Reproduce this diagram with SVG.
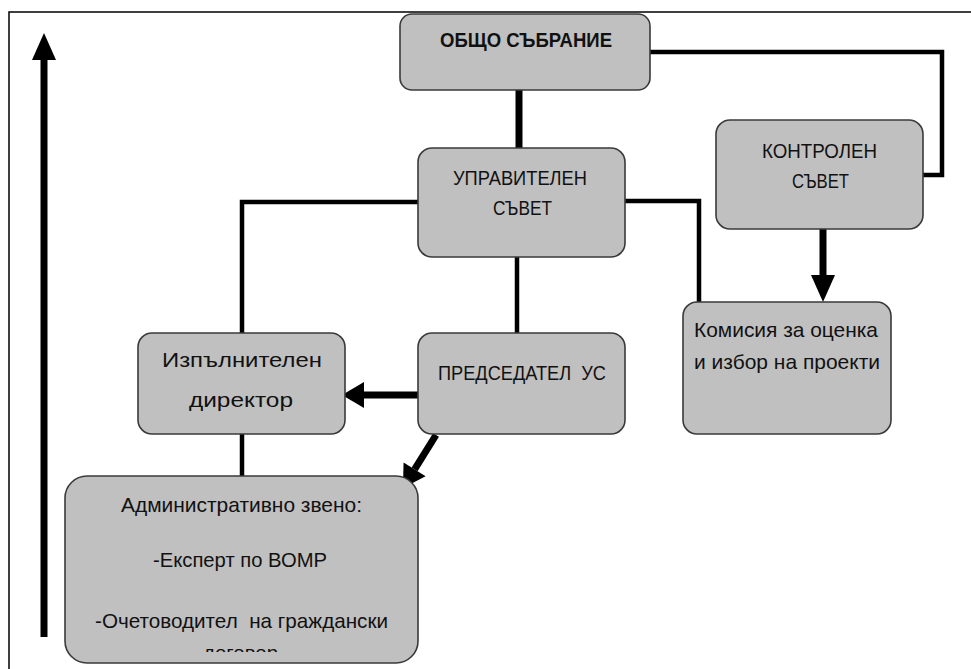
<svg xmlns="http://www.w3.org/2000/svg" width="971" height="669" viewBox="0 0 971 669">
<style>
.box{fill:#c0c0c0;stroke:#3a3a3a;stroke-width:1.6}
.t{font-family:"Liberation Sans",Arial,sans-serif;font-size:21px;fill:#111;white-space:pre}
.b{font-weight:bold}
.ln{fill:none;stroke:#000;stroke-width:4.5}
.th{fill:none;stroke:#000;stroke-width:7}
</style>
<defs>
<marker id="hl" markerUnits="userSpaceOnUse" markerWidth="30" markerHeight="26" refX="0" refY="12" orient="auto" overflow="visible">
<path d="M0,0 L27,12 L0,24 z" fill="#000"/>
</marker>
<marker id="hs" markerUnits="userSpaceOnUse" markerWidth="26" markerHeight="28" refX="0" refY="13" orient="auto" overflow="visible">
<path d="M0,0 L22,13 L0,26 z" fill="#000"/>
</marker>
<clipPath id="adminClip"><rect x="65" y="476" width="353" height="176"/></clipPath>
</defs>
<rect x="0" y="0" width="971" height="669" fill="#fff"/>
<path d="M9,680 V12 H985" fill="none" stroke="#000" stroke-width="1.5"/>
<g id="connectors">
<path class="th" d="M44,637 V60" marker-end="url(#hl)"/>
<path class="th" d="M519,90 V148"/>
<path class="ln" d="M650,52 H942 V175 H923"/>
<path class="ln" d="M418,202 H242 V333"/>
<path class="ln" d="M625,201 H699 V302"/>
<path class="ln" d="M517,257 V333"/>
<path class="ln" d="M242,434 V476"/>
<path class="th" d="M823,229 V275" marker-end="url(#hl)"/>
<path class="th" d="M418,395 H364" marker-end="url(#hs)"/>
<path class="th" d="M436,435 L414.6,469.3" marker-end="url(#hs)"/>
</g>
<g id="obshto">
<rect class="box" x="400" y="14" width="250" height="76" rx="12"/>
<text class="t b" x="440" y="47" textLength="172" lengthAdjust="spacingAndGlyphs">ОБЩО СЪБРАНИЕ</text>
</g>
<g id="upravitelen">
<rect class="box" x="418" y="148" width="207" height="109" rx="14"/>
<text class="t" x="453" y="185" textLength="134" lengthAdjust="spacingAndGlyphs">УПРАВИТЕЛЕН</text>
<text class="t" x="493" y="215" textLength="59" lengthAdjust="spacingAndGlyphs">СЪВЕТ</text>
</g>
<g id="kontrolen">
<rect class="box" x="716" y="120" width="207" height="109" rx="14"/>
<text class="t" x="762" y="158" textLength="115" lengthAdjust="spacingAndGlyphs">КОНТРОЛЕН</text>
<text class="t" x="792" y="188" textLength="57" lengthAdjust="spacingAndGlyphs">СЪВЕТ</text>
</g>
<g id="izpalnitelen">
<rect class="box" x="138" y="333" width="207" height="101" rx="14"/>
<text class="t" x="162" y="367" textLength="160" lengthAdjust="spacingAndGlyphs">Изпълнителен</text>
<text class="t" x="189" y="407" textLength="104" lengthAdjust="spacingAndGlyphs">директор</text>
</g>
<g id="predsedatel">
<rect class="box" x="418" y="333" width="207" height="101" rx="14"/>
<text class="t" x="438" y="380" textLength="168" lengthAdjust="spacingAndGlyphs">ПРЕДСЕДАТЕЛ  УС</text>
</g>
<g id="komisia">
<rect class="box" x="683" y="302" width="208" height="132" rx="14"/>
<text class="t" x="694" y="337" textLength="184" lengthAdjust="spacingAndGlyphs">Комисия за оценка</text>
<text class="t" x="694" y="369" textLength="186" lengthAdjust="spacingAndGlyphs">и избор на проекти</text>
</g>
<g id="administrativno">
<rect class="box" x="65" y="476" width="353" height="187" rx="22"/>
<text class="t" x="121" y="512" textLength="241" lengthAdjust="spacingAndGlyphs">Административно звено:</text>
<text class="t" x="153" y="567" textLength="174" lengthAdjust="spacingAndGlyphs">-Експерт по ВОМР</text>
<text class="t" x="95" y="628" textLength="293" lengthAdjust="spacingAndGlyphs">-Очетоводител  на граждански</text>
<text class="t" x="203" y="660" textLength="75" lengthAdjust="spacingAndGlyphs" clip-path="url(#adminClip)">договор</text>
</g>
</svg>
